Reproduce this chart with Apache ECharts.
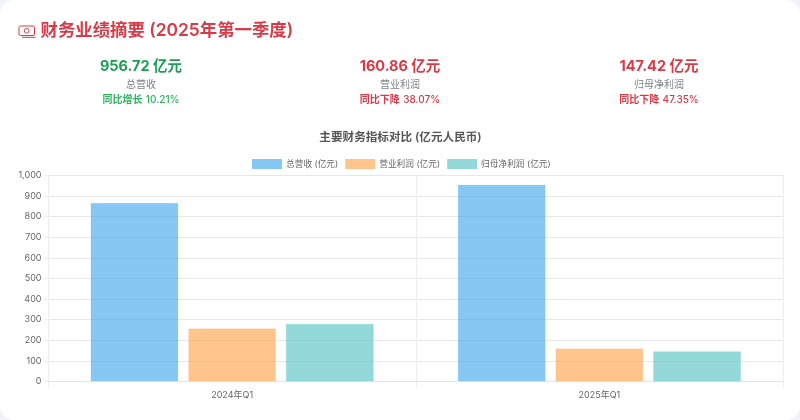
<!DOCTYPE html>
<html><head><meta charset="utf-8">
<script src="https://cdn.jsdelivr.net/npm/echarts@6/dist/echarts.min.js"></script>
<style>
html,body{margin:0;padding:0;width:800px;height:420px;background:#f1f2f8;overflow:hidden}
#card{position:absolute;left:0;top:0;width:800px;height:420px;background:#fff;border-radius:14px}
#c{width:800px;height:420px}
</style></head><body><div id="card"><div id="c"></div></div>
<script>
const categories = ['2024年Q1', '2025年Q1'];
const revenue = [868, 956.72];
const operatingProfit = [258, 160.86];
const netProfit = [280, 147.42];
const seriesNames = ['总营收 (亿元)', '营业利润 (亿元)', '归母净利润 (亿元)'];
const kpiValues = ['956.72 亿元', '160.86 亿元', '147.42 亿元'];
const kpiLabels = ['总营收', '营业利润', '归母净利润'];
const kpiDirections = ['同比增长', '同比下降', '同比下降'];
const kpiChanges = ['10.21%', '38.07%', '47.35%'];
const pageTitle = '财务业绩摘要 (2025年第一季度)';
const chartTitle = '主要财务指标对比 (亿元人民币)';

const FONT = 'Inter, "Noto Sans CJK SC", sans-serif';
const RED = '#d93a48', GREEN = '#2db55d';
const kpiColors = ['#1f9d55', RED, RED];
const deltaColors = [GREEN, RED, RED];
const kpiX = [141, 400, 659];

const graphics = [
  {type:'rect',shape:{x:19,y:26,width:15.5,height:9.5,r:1.5},style:{fill:'none',stroke:RED,lineWidth:1}},
  {type:'circle',shape:{cx:26.7,cy:30.8,r:2.4},style:{fill:'none',stroke:RED,lineWidth:1}},
  {type:'line',shape:{x1:22,y1:37.3,x2:35.5,y2:37.3},style:{stroke:RED,lineWidth:1}},
  {type:'text',x:40.5,y:31,style:{text:pageTitle,font:'600 17.4px '+FONT,fill:RED,textVerticalAlign:'middle'}}
];
kpiValues.forEach((v,i)=>{
  graphics.push({type:'text',x:kpiX[i],y:67,style:{text:v,font:'700 14.5px '+FONT,fill:kpiColors[i],textAlign:'center',textVerticalAlign:'middle'}});
  graphics.push({type:'text',x:kpiX[i],y:85,style:{text:kpiLabels[i],font:'400 10px '+FONT,fill:'#7a828a',textAlign:'center',textVerticalAlign:'middle'}});
  graphics.push({type:'text',x:kpiX[i],y:99.5,style:{
    text:'{b|'+kpiDirections[i]+'} {n|'+kpiChanges[i]+'}',
    rich:{b:{font:'700 10px '+FONT,fill:deltaColors[i]},n:{font:'500 10px '+FONT,fill:deltaColors[i]}},
    align:'center',verticalAlign:'middle'}});
});

const chart = echarts.init(document.getElementById('c'),null,{renderer:'canvas'});
const barStyle = (fill,border)=>({color:fill,borderColor:border,borderWidth:1});
const mk = (name,data,fill,border)=>({name,type:'bar',data,barWidth:88,barGap:'11%',itemStyle:barStyle(fill,border),emphasis:{disabled:true},animation:false});
chart.setOption({
  animation:false,
  textStyle:{fontFamily:FONT},
  title:{text:chartTitle,left:400.5,top:131.5,textAlign:'center',textStyle:{fontSize:11.6,fontWeight:600,color:'#555',fontFamily:FONT},padding:0},
  legend:{top:159,left:252,itemWidth:30,itemHeight:10,itemGap:7,icon:'rect',padding:0,
    itemStyle:{borderWidth:0},
    textStyle:{fontSize:8.7,color:'#666',fontFamily:FONT,padding:[0,0,0,-1]},data:seriesNames},
  grid:{left:48.5,right:17,top:175.5,bottom:38.5,containLabel:false},
  xAxis:{type:'category',data:categories,
    axisLine:{show:true,lineStyle:{color:'#e4e4e4',width:1}},
    axisTick:{show:true,length:6,lineStyle:{color:'#eeeeee'}},
    splitLine:{show:true,lineStyle:{color:'#eeeeee',width:1}},
    axisLabel:{fontSize:9,color:'#666',margin:9,fontFamily:FONT}},
  yAxis:{type:'value',min:0,max:1000,interval:100,
    axisLine:{show:true,lineStyle:{color:'#eeeeee'}},
    axisTick:{show:true,length:5,lineStyle:{color:'#eeeeee'}},
    splitLine:{show:true,lineStyle:{color:'#e8e8e8',width:1}},
    axisLabel:{fontSize:9,color:'#666',margin:7,fontFamily:FONT,formatter:v=>v.toLocaleString('en-US')}},
  series:[
    mk(seriesNames[0],revenue,'rgba(54,162,235,0.6)','rgba(54,162,235,0.12)'),
    mk(seriesNames[1],operatingProfit,'rgba(255,159,64,0.6)','rgba(255,159,64,0.12)'),
    mk(seriesNames[2],netProfit,'rgba(75,192,192,0.6)','rgba(75,192,192,0.2)')
  ],
  graphic:graphics
});
</script></body></html>
